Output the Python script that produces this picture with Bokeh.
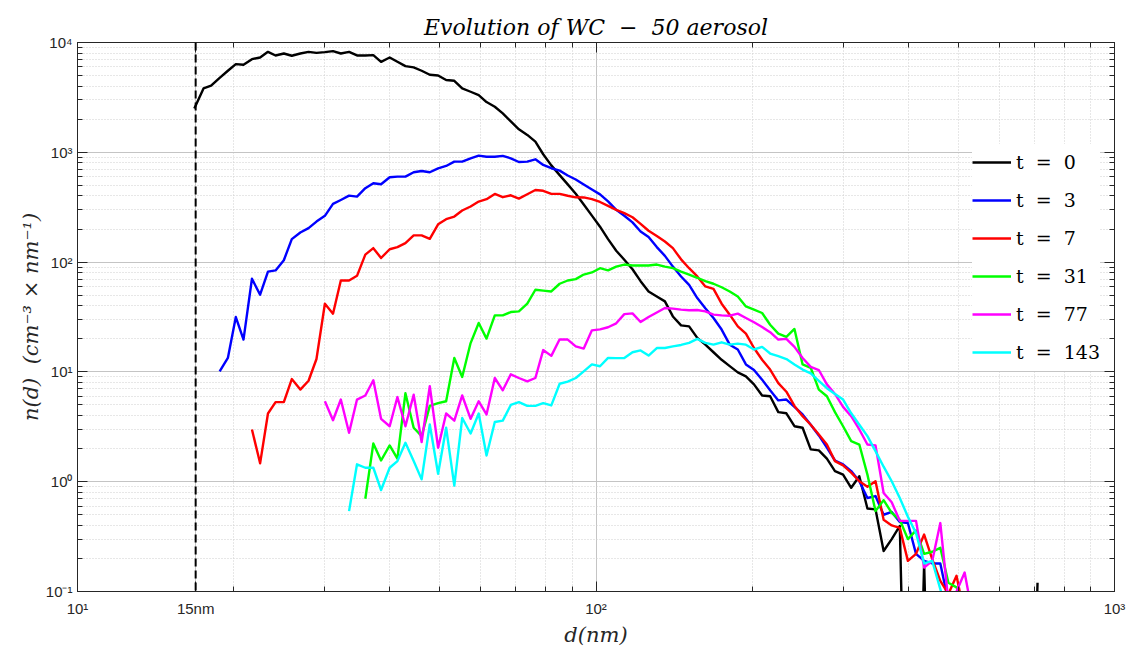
from bokeh.plotting import figure
from bokeh.models import LogAxis, FixedTicker, Span
from bokeh.embed import file_html
from bokeh.resources import INLINE

NA = float("nan")

# particle diameter bins (nm), 64 channels per decade
diameters = [16.8, 17.5, 18.1, 18.8, 19.5, 20.2, 20.9, 21.7, 22.5, 23.3,
             24.1, 25.0, 25.9, 26.9, 27.9, 28.9, 30.0, 31.1, 32.2, 33.4,
             34.6, 35.9, 37.2, 38.5, 40.0, 41.4, 42.9, 44.5, 46.1, 47.8,
             49.6, 51.4, 53.3, 55.2, 57.3, 59.4, 61.5, 63.8, 66.1, 68.5,
             71.0, 73.7, 76.4, 79.1, 82.0, 85.1, 88.2, 91.4, 94.7, 98.2,
             101.8, 105.5, 109.4, 113.4, 117.6, 121.9, 126.3, 131.0, 135.8, 140.7,
             145.9, 151.2, 156.8, 162.5, 168.5, 174.7, 181.1, 187.7, 194.6, 201.7,
             209.1, 216.7, 224.7, 232.9, 241.4, 250.3, 259.5, 269.0, 278.8, 289.0,
             299.6, 310.6, 322.0, 333.8, 346.0, 358.7, 371.8, 385.4, 399.5, 414.2,
             429.4, 445.1, 461.4, 478.3, 495.8, 514.0, 532.8, 552.3, 572.5, 593.5,
             615.3, 637.8, 661.2, 685.4, 710.5]

n_t0 = [2510, 3815, 4040, 4770, 5530, 6350, 6270, 7050, 7300, 8220,
        7620, 7940, 7570, 7940, 8220, 8050, 8170, 8340, 7940, 8220,
        7620, 7620, 7670, 6670, 7300, 6670, 6090, 5930, 5530, 5080,
        5010, 4550, 4480, 3815, 3560, 3320, 2870, 2600, 2260, 1910,
        1620, 1440, 1250, 960, 760, 620, 510, 420, 335, 265,
        210, 162, 127, 105, 86, 67, 54, 48.7, 43.9, 32,
        26.5, 26, 20.4, 17.7, 15.1, 12.9, 11.3, 9.9, 9.1, 7.7,
        6.1, 6.0, 4.3, 4.2, 3.2, 3.1, 1.97, 1.93, 1.62, 1.25,
        1.16, 0.88, 1.12, 0.57, 0.56, 0.234, 0.30, 0.395, 0.0003, 0.0003,
        0.18, 0.0003, 0.0003, 0.0003, 0.0003, 0.0003, 0.0003, 0.0003, 0.0003, 0.0003,
        0.0003, 0.0003, 0.0003, 0.0003, 0.12]

n_t3 = [NA, NA, NA, 10.1, 13.4, 31.6, 19.7, 70.5, 50.5, 82,
        84, 104, 162, 186, 204, 234, 264, 339, 368, 403,
        395, 471, 523, 512, 593, 601, 601, 658, 676, 658,
        714, 751, 822, 822, 881, 933, 912, 912, 927, 881,
        816, 822, 863, 767, 716, 681, 615, 565, 508, 458,
        414, 357, 299, 264, 230, 190, 169, 137, 114, 91,
        74, 62, 47, 38, 31, 24.3, 17.7, 16.0, 11.7, 10.4,
        8.5, 6.8, 5.5, 5.6, 4.8, 4.1, 3.3, 2.64, 2.04, 1.56,
        1.44, 1.25, 1.01, 0.71, 0.74, 0.50, 0.53, 0.43, 0.42, 0.22,
        0.19, 0.18, 0.18, 0.08, 0.05]

n_t7 = [NA, NA, NA, NA, NA, NA, NA, 2.99, 1.47, 4.18,
        5.3, 5.3, 8.6, 6.9, 8.3, 13.1, 41.8, 33.9, 68, 68,
        75, 117, 134, 109, 131, 137, 149, 175, 175, 163,
        221, 246, 260, 295, 321, 356, 374, 418, 390, 406,
        379, 415, 454, 446, 418, 418, 402, 389, 388, 374,
        353, 325, 299, 279, 256, 223, 193, 173, 154, 134,
        106, 88, 74, 60, 57, 41.8, 33.2, 26, 22.3, 16.5,
        12.9, 10.5, 7.9, 6.6, 4.9, 3.95, 3.3, 2.69, 2.18, 1.54,
        1.41, 1.21, 1.01, 0.90, 1.01, 0.45, 0.40, 0.38, 0.19, 0.22,
        0.33, 0.197, 0.125, 0.095, 0.139, 0.06]

n_t31 = [NA, NA, NA, NA, NA, NA, NA, NA, NA, NA,
         NA, NA, NA, NA, NA, NA, NA, NA, NA, NA,
         NA, 0.70, 2.23, 1.56, 2.14, 1.62, 6.4, 3.1, 2.6, 4.9,
         5.2, 5.4, 13.4, 9.0, 18.3, 27.9, 20.1, 32.7, 32.7, 35.1,
         35.6, 41.8, 56, 55, 54, 63.5, 68, 70, 77, 80.5,
         88, 84, 91, 95, 93, 93, 93, 95, 91, 88,
         82, 77, 72, 67, 63.5, 59, 54, 48.7, 39.5, 36.9,
         34.4, 26.9, 22.3, 20.8, 24.6, 11.7, 10.9, 6.9, 6.0, 4.3,
         3.2, 2.34, 2.18, 1.16, 0.54, 0.68, 0.52, 0.45, 0.30, 0.36,
         0.22, 0.23, 0.25, 0.12, 0.109, 0.07]

n_t77 = [NA, NA, NA, NA, NA, NA, NA, NA, NA, NA,
         NA, NA, NA, NA, NA, NA, 5.4, 3.63, 5.6, 2.79,
         5.6, 6.1, 8.4, 3.74, 3.2, 5.9, 3.2, 6.2, 2.30, 7.4,
         2.04, 4.18, 3.6, 6.1, 3.74, 5.4, 4.1, 8.8, 6.8, 9.5,
         8.8, 8.2, 8.8, 15.8, 14.0, 19.8, 19.7, 17.1, 16.3, 23.9,
         24.4, 25.5, 27.7, 33.6, 34.1, 28.5, 31.6, 34.8, 38.2, 37.7,
         36.9, 36.4, 36.6, 35.6, 33.2, 32.7, 32.5, 33.9, 31, 28.3,
         25.6, 23, 19.7, 20, 16.9, 13.4, 11.1, 10.4, 7.7, 6.3,
         4.8, 3.95, 2.99, 2.18, 2.14, 0.79, 0.65, 0.44, 0.44, 0.44,
         0.165, 0.19, 0.42, 0.08, 0.10, 0.149, 0.06]

n_t143 = [NA, NA, NA, NA, NA, NA, NA, NA, NA, NA,
          NA, NA, NA, NA, NA, NA, NA, NA, NA, 0.54,
          1.44, 1.34, 1.34, 0.84, 1.34, 1.54, 2.26, 1.54, 1.05, 3.32,
          1.18, 3.1, 0.92, 3.8, 2.75, 4.18, 1.73, 3.5, 3.6, 5.0,
          5.3, 4.9, 4.9, 5.2, 4.95, 7.8, 8.15, 8.8, 10.1, 11.7,
          11.25, 13.4, 13.35, 13.4, 15.1, 15.7, 14.1, 16.5, 16.5, 17.1,
          17.6, 18.4, 20, 18.4, 17.7, 18.6, 17.7, 18.1, 17.7, 16,
          16.9, 14.7, 13.9, 13.1, 11.7, 10.5, 9.7, 8.3, 7.1, 6.3,
          5.6, 4.2, 3.3, 2.6, 1.90, 1.37, 1.01, 0.71, 0.48, 0.34,
          0.18, 0.19, 0.105, 0.06]

series_times = ["0", "3", "7", "31", "77", "143"]
series_values = [n_t0, n_t3, n_t7, n_t31, n_t77, n_t143]
series_colors = ["#000000", "#0000ff", "#ff0000", "#00ff00", "#ff00ff", "#00ffff"]

cutoff_d = 16.9
x_tick_values = [10, cutoff_d, 100, 1000]
x_tick_labels = ["10\u00b9", "15nm", "10\u00b2", "10\u00b3"]
y_tick_values = [0.1, 1, 10, 100, 1000, 10000]
y_tick_labels = ["10\u207b\u00b9", "10\u2070", "10\u00b9", "10\u00b2", "10\u00b3", "10\u2074"]
x_minor = [m * 10 ** e for e in (1, 2) for m in range(2, 10)]
y_minor = [m * 10.0 ** e for e in range(-1, 4) for m in range(2, 10)]

AX = "#262626"
SERIF = "DejaVu Serif"
SANS = "Liberation Sans"


def pad(vals):
    return list(vals) + [NA] * (len(diameters) - len(vals))


p = figure(width=1126, height=649, x_axis_type="log", y_axis_type="log",
           x_range=(10, 1000), y_range=(0.1, 10000),
           output_backend="svg", toolbar_location=None,
           min_border_left=77, min_border_right=12,
           min_border_top=42, min_border_bottom=56)
p.background_fill_color = "white"
p.border_fill_color = "white"
p.outline_line_color = AX

p.title.text = "Evolution of WC \u00a0\u2212\u00a0 50 aerosol"
p.title.align = "center"
p.title.text_font = SERIF
p.title.text_font_style = "italic"
p.title.text_font_size = "22px"
p.title.text_color = "black"
p.title.standoff = 5

x_ticker = FixedTicker(ticks=x_tick_values, minor_ticks=x_minor)
y_ticker = FixedTicker(ticks=y_tick_values, minor_ticks=y_minor)


def style_axis(ax, ticker):
    ax.ticker = ticker
    ax.axis_line_color = AX
    ax.axis_line_width = 1
    ax.major_tick_line_color = AX
    ax.minor_tick_line_color = AX
    ax.major_tick_in = 10
    ax.major_tick_out = 0
    ax.minor_tick_in = 5
    ax.minor_tick_out = 0


xa = p.xaxis[0]
style_axis(xa, x_ticker)
xa.major_label_overrides = dict(zip(x_tick_values, x_tick_labels))
xa.major_label_text_font = SANS
xa.major_label_text_font_size = "15px"
xa.major_label_text_color = AX
xa.major_label_standoff = 8
xa.axis_label = "d(nm)"
xa.axis_label_text_font = SERIF
xa.axis_label_text_font_style = "italic"
xa.axis_label_text_font_size = "21px"
xa.axis_label_text_color = AX
xa.axis_label_standoff = 3

ya = p.yaxis[0]
style_axis(ya, y_ticker)
ya.major_label_overrides = dict(zip(y_tick_values, y_tick_labels))
ya.major_label_text_font = SANS
ya.major_label_text_font_size = "15px"
ya.major_label_text_color = AX
ya.major_label_standoff = 5
ya.axis_label = "n(d)\u00a0\u00a0(cm\u207b\u00b3\u00a0\u00d7\u00a0nm\u207b\u00b9)"
ya.axis_label_text_font = SERIF
ya.axis_label_text_font_style = "italic"
ya.axis_label_text_font_size = "21px"
ya.axis_label_text_color = AX
ya.axis_label_standoff = 0

# tick-only axes on top and right (box with inward ticks)
top_ax = LogAxis()
style_axis(top_ax, x_ticker)
top_ax.major_label_overrides = {v: "" for v in x_tick_values}
top_ax.major_label_text_color = None
top_ax.major_label_text_font_size = "4px"
top_ax.major_label_standoff = 0
p.add_layout(top_ax, "above")

right_ax = LogAxis()
style_axis(right_ax, y_ticker)
right_ax.major_label_overrides = {v: "" for v in y_tick_values}
right_ax.major_label_text_color = None
right_ax.major_label_text_font_size = "4px"
right_ax.major_label_standoff = 0
p.add_layout(right_ax, "right")

for g, t in ((p.xgrid[0], x_ticker), (p.ygrid[0], y_ticker)):
    g.ticker = t
    g.grid_line_color = "#c4c4c4"
    g.grid_line_width = 1
    g.minor_grid_line_color = "#cfcfcf"
    g.minor_grid_line_dash = "1 2"
    g.minor_grid_line_width = 1

p.add_layout(Span(location=cutoff_d, dimension="height", line_color="black",
                  line_dash="8 4", line_width=2))

for tval, vals, col in zip(series_times, series_values, series_colors):
    p.line(diameters, pad(vals), line_color=col, line_width=2.4, line_join="round",
           legend_label="t\u00a0\u00a0=\u00a0\u00a0" + tval)

lg = p.legend[0]
lg.location = (895, 221)
lg.background_fill_color = "white"
lg.background_fill_alpha = 1
lg.border_line_color = None
lg.padding = 5
lg.margin = 0
lg.spacing = 2
lg.glyph_width = 39
lg.glyph_height = 36
lg.label_height = 36
lg.label_standoff = 5
lg.label_text_font = SERIF
lg.label_text_font_size = "19px"
lg.label_text_color = "black"

open("out.html", "w").write(file_html(p, INLINE))
